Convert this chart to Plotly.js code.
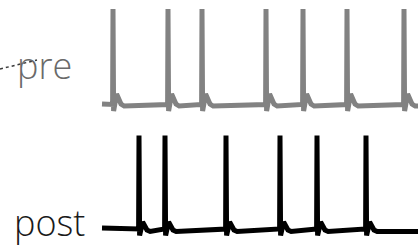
<!DOCTYPE html>
<html>
<head>
<meta charset="utf-8">
<script src="https://cdn.plot.ly/plotly-3.0.1.min.js"></script>
<style>html,body{margin:0;padding:0;background:#fff;}#chart{width:418px;height:247px;}</style>
</head>
<body>
<div id="chart"></div>
<script>
// Spike times (ms)
const preSpikeTimes = [27.5, 165, 250, 410, 502.5, 612.5, 755];
const postSpikeTimes = [92.5, 157.5, 310, 445, 537.5, 660];

// Recording window (ms)
const recordStart = 0;
const recordEnd = 800;

// Membrane potential (mV): resting levels
const preRestBefore = -64;
const preRestAfter = -66;
const postRestBefore = -63;
const postRestAfter = -66.5;

// Action potential waveform: time offsets from spike (ms) and voltage (mV)
const spikeOffsets = [-1, 0, 1.5, 9, 13, 20, 28];
const preSpikeShape = [-64.5, 31, -71, -54, -58, -64, -66];
const postSpikeShape = [-64, 29.5, -70.5, -57, -61, -65, -66.5];

const labels = ["pre", "post"];

function buildTrace(spikes, shape, restBefore, restAfter) {
  const x = [recordStart];
  const y = [restBefore];
  spikes.forEach((t) => {
    spikeOffsets.forEach((dt, k) => {
      x.push(t + dt);
      y.push(shape[k]);
    });
  });
  x.push(recordEnd);
  y.push(restAfter);
  return {x, y};
}

const pre = buildTrace(preSpikeTimes, preSpikeShape, preRestBefore, preRestAfter);
const post = buildTrace(postSpikeTimes, postSpikeShape, postRestBefore, postRestAfter);

const W = 418, H = 247;
const data = [
  {x: pre.x, y: pre.y, type: 'scatter', mode: 'lines', xaxis: 'x', yaxis: 'y',
   line: {color: '#828282', width: 5, shape: 'linear'}, hoverinfo: 'skip', showlegend: false},
  {x: post.x, y: post.y, type: 'scatter', mode: 'lines', xaxis: 'x', yaxis: 'y2',
   line: {color: '#000000', width: 5, shape: 'linear'}, hoverinfo: 'skip', showlegend: false}
];

const layout = {
  width: W, height: H,
  margin: {l: 0, r: 0, t: 0, b: 0, pad: 0},
  paper_bgcolor: '#ffffff', plot_bgcolor: 'rgba(0,0,0,0)',
  showlegend: false,
  xaxis: {range: [-255, 790], visible: false, fixedrange: true},
  yaxis: {range: [-75, 35], domain: [(H - 115) / H, (H - 5) / H], visible: false, fixedrange: true},
  yaxis2: {range: [-75, 35], domain: [(H - 240) / H, (H - 130) / H], visible: false, fixedrange: true},
  annotations: [
    {text: labels[0], xref: 'paper', yref: 'paper', x: 44.5 / W, y: (H - 66) / H,
     xanchor: 'center', yanchor: 'middle', showarrow: false,
     font: {family: 'Open Sans, sans-serif', size: 36, weight: 300, color: '#6a6a6a'}},
    {text: labels[1], xref: 'paper', yref: 'paper', x: 49 / W, y: (H - 222.5) / H,
     xanchor: 'center', yanchor: 'middle', showarrow: false,
     font: {family: 'Open Sans, sans-serif', size: 36, weight: 300, color: '#1a1a1a'}}
  ],
  shapes: [
    {type: 'line', xref: 'paper', yref: 'paper', x0: 0, y0: (H - 69) / H, x1: 37 / W, y1: (H - 60) / H,
     layer: 'above', line: {color: '#3a3a3a', width: 1.5, dash: 'dot'}}
  ]
};

Plotly.newPlot('chart', data, layout, {staticPlot: true, displayModeBar: false});
</script>
</body>
</html>
